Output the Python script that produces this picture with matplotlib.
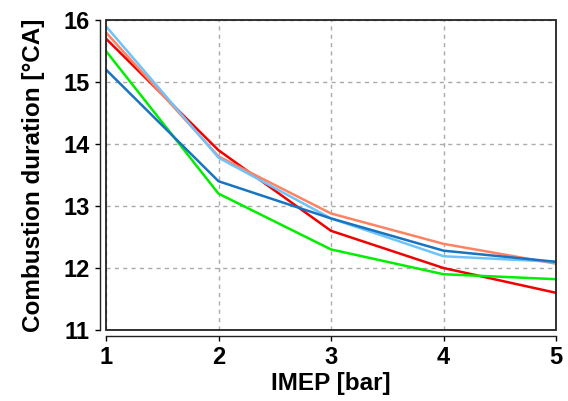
import matplotlib
matplotlib.use("Agg")
import matplotlib.pyplot as plt
from matplotlib.patches import Rectangle

# Dados
imep = [1, 2, 3, 4, 5]
dur_red = [15.70, 13.90, 12.60, 12.00, 11.60]
dur_green = [15.50, 13.20, 12.30, 11.90, 11.82]
dur_salmon = [15.80, 13.80, 12.88, 12.39, 12.07]
dur_lightblue = [15.90, 13.78, 12.80, 12.19, 12.10]
dur_blue = [15.20, 13.40, 12.80, 12.28, 12.10]

series = [
    (dur_red, "#f00000"),
    (dur_green, "#00ee00"),
    (dur_salmon, "#ff8262"),
    (dur_lightblue, "#6ec4fa"),
    (dur_blue, "#1874c0"),
]

plt.rcParams['font.family'] = ['Liberation Sans', 'DejaVu Sans']
plt.rcParams['font.weight'] = 'bold'

fig = plt.figure(figsize=(5.68, 4.01), dpi=100)
ax = fig.add_axes([0.1866, 0.177, 0.7924, 0.773])

for valores, cor in series:
    ax.plot(imep, valores, color=cor, lw=1.8, solid_joinstyle='miter')

ax.set_xlim(1, 5)
ax.set_ylim(11, 16)
ax.set_xticks([1, 2, 3, 4, 5])
ax.set_yticks([11, 12, 13, 14, 15, 16])
ax.grid(True, color='#aaaaaa', linestyle=(0, (3, 3)), lw=1.0)

# Eixos deslocados (estilo Origin) + moldura
for lado in ['left', 'bottom']:
    ax.spines[lado].set_position(('outward', 4.5))
    ax.spines[lado].set_linewidth(1.0)
    ax.spines[lado].set_color('#222222')
for lado in ['top', 'right']:
    ax.spines[lado].set_visible(False)
ax.add_patch(Rectangle((0, 0), 1, 1, transform=ax.transAxes, fill=False,
                       lw=1.3, ec='#222222', clip_on=False, zorder=5))

ax.tick_params(direction='out', length=3.8, width=1.0, labelsize=17, pad=3.5)
for lbl in ax.get_xticklabels() + ax.get_yticklabels():
    lbl.set_fontweight('bold')

ax.set_xlabel("IMEP [bar]", fontsize=17.5, fontweight='bold', labelpad=2)
ax.set_ylabel("Combustion duration [°CA]", fontsize=17.5, fontweight='bold', labelpad=13)

fig.savefig("out.png", dpi=100)
